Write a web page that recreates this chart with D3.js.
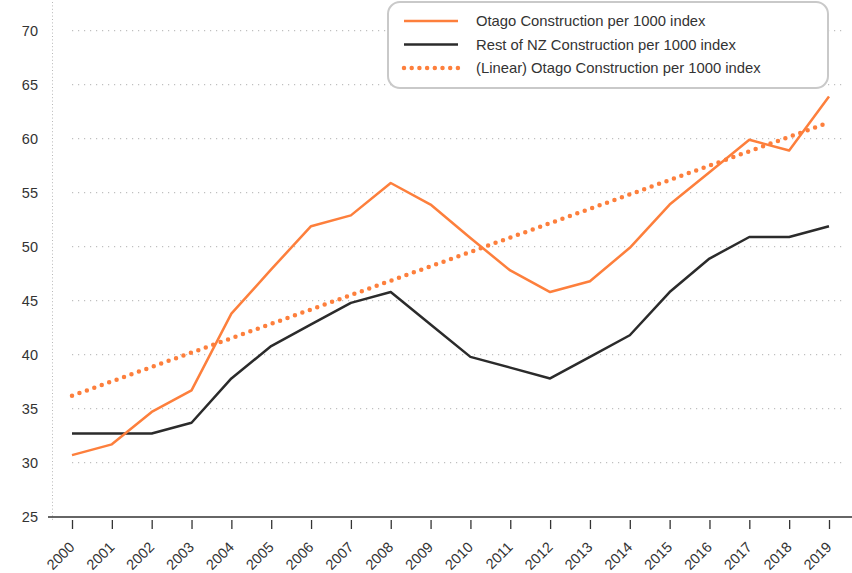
<!DOCTYPE html>
<html><head><meta charset="utf-8">
<script src="https://cdn.jsdelivr.net/npm/d3@7"></script>
<style>body{margin:0;background:#fff}svg{display:block}</style>
</head><body><svg id="c" width="852" height="573"></svg>
<script>
const years = ["2000","2001","2002","2003","2004","2005","2006","2007","2008","2009","2010","2011","2012","2013","2014","2015","2016","2017","2018","2019"];
const otago = [30.7,31.7,34.7,36.7,43.8,47.9,51.9,52.9,55.9,53.9,50.8,47.8,45.8,46.8,49.9,53.9,56.9,59.9,58.9,63.9];
const restNZ = [32.7,32.7,32.7,33.7,37.8,40.8,42.8,44.8,45.8,42.8,39.8,38.8,37.8,39.8,41.8,45.8,48.9,50.9,50.9,51.9];
const trendYears = ["2000","2019"];
const trendValues = [36.2,61.5];
const yTicks = [25,30,35,40,45,50,55,60,65,70];
const seriesNames = ["Otago Construction per 1000 index","Rest of NZ Construction per 1000 index","(Linear) Otago Construction per 1000 index"];

const ORANGE = "#fd7f3c", DARK = "#2b2b2b";
const svg = d3.select("#c");
const x = d3.scalePoint().domain(years).range([72, 829]);
const y = d3.scaleLinear().domain([25, 70]).range([516.7, 30.7]);
const font = "'Liberation Sans', Arial, sans-serif";

// gridlines
svg.append("g").selectAll("line").data(yTicks.filter(d => d > 25)).join("line")
  .attr("x1", 72).attr("x2", 842).attr("y1", d => y(d)).attr("y2", d => y(d))
  .attr("stroke", "#b0b0b0").attr("stroke-width", 1).attr("stroke-dasharray", "1.2,4.8");
// y axis dotted line
svg.append("line").attr("x1", 52.5).attr("x2", 52.5).attr("y1", 2).attr("y2", 522)
  .attr("stroke", "#b8b8b8").attr("stroke-dasharray", "1,2.4");
// y labels
svg.append("g").selectAll("text").data(yTicks).join("text")
  .attr("x", 38).attr("y", d => y(d) + 5).attr("text-anchor", "end")
  .attr("font-family", font).attr("font-size", 14.5).attr("fill", "#333").text(d => d);

// x axis
const xAxis = d3.axisBottom(x).tickSize(9).tickPadding(4);
const gx = svg.append("g").attr("transform", "translate(0,520)").call(xAxis);
gx.select(".domain").remove();
gx.selectAll(".tick line").attr("stroke", "#333").attr("stroke-width", 1.3);
gx.selectAll(".tick text").attr("font-family", font).attr("font-size", 14.5).attr("fill", "#333")
  .attr("text-anchor", "end").attr("y", 0).attr("dy", 0).attr("transform", "translate(3,28) rotate(-45)");
svg.append("line").attr("x1", 48).attr("x2", 852).attr("y1", 517).attr("y2", 517)
  .attr("stroke", "#333").attr("stroke-width", 1.3);

const line = d3.line().x((d, i) => x(years[i])).y(d => y(d));
svg.append("path").datum(restNZ).attr("d", line).attr("fill", "none")
  .attr("stroke", DARK).attr("stroke-width", 2.5).attr("stroke-linejoin", "round");
svg.append("path").datum(otago).attr("d", line).attr("fill", "none")
  .attr("stroke", ORANGE).attr("stroke-width", 2.5).attr("stroke-linejoin", "round");
const tline = d3.line().x((d, i) => x(trendYears[i])).y(d => y(d));
svg.append("path").datum(trendValues).attr("d", tline).attr("fill", "none")
  .attr("stroke", ORANGE).attr("stroke-width", 4.5).attr("stroke-linecap", "round")
  .attr("stroke-dasharray", "0,7.9");

// legend
const lg = svg.append("g");
lg.append("rect").attr("x", 388).attr("y", 2).attr("width", 440).attr("height", 86)
  .attr("rx", 12).attr("fill", "#fff").attr("stroke", "#c9c9c9").attr("stroke-width", 2);
const ly = [21, 44.5, 68];
seriesNames.forEach((n, i) => {
  const l = lg.append("line").attr("x1", 404).attr("x2", 458).attr("y1", ly[i]).attr("y2", ly[i]);
  if (i === 2) l.attr("stroke", ORANGE).attr("stroke-width", 4.5).attr("stroke-linecap", "round").attr("stroke-dasharray", "0,7.7");
  else l.attr("stroke", i === 0 ? ORANGE : DARK).attr("stroke-width", 2.5);
  lg.append("text").attr("x", 476).attr("y", ly[i] + 5).attr("font-family", font).attr("font-size", 14.8)
    .attr("fill", "#333").text(n);
});
</script></body></html>
